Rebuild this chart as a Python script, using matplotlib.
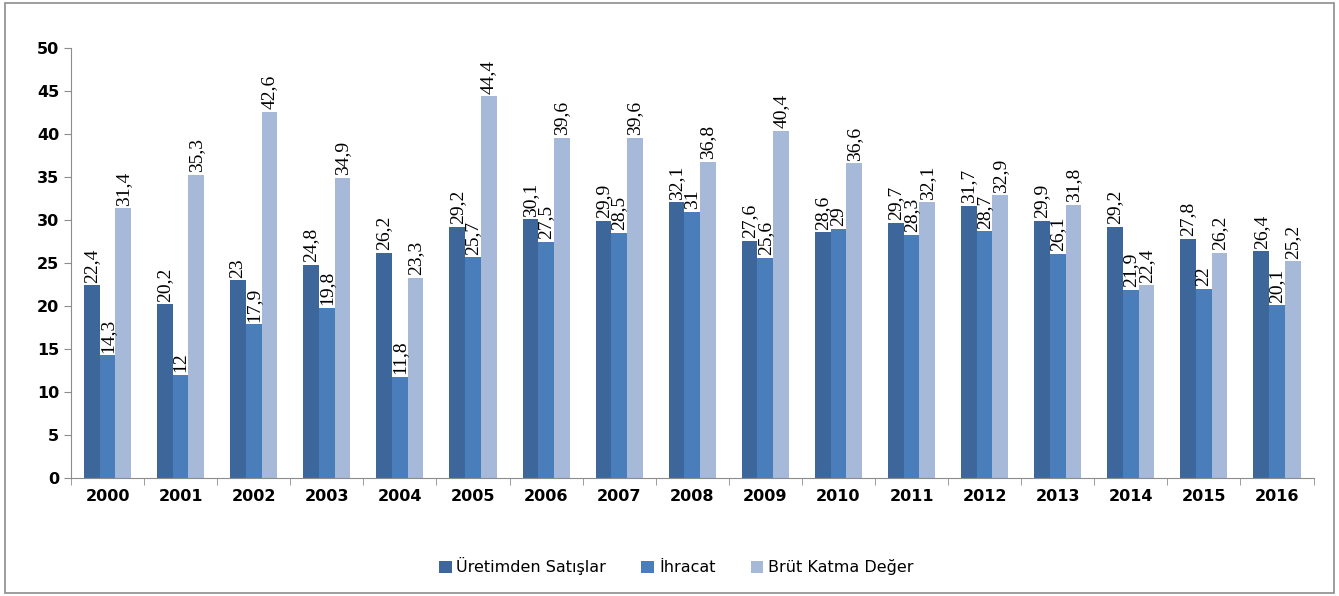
import matplotlib.pyplot as plt
import numpy as np
from matplotlib.patches import Rectangle

YEARS = ['2000', '2001', '2002', '2003', '2004', '2005', '2006', '2007', '2008',
         '2009', '2010', '2011', '2012', '2013', '2014', '2015', '2016']
URETIM = [22.4, 20.2, 23, 24.8, 26.2, 29.2, 30.1, 29.9, 32.1, 27.6, 28.6, 29.7,
          31.7, 29.9, 29.2, 27.8, 26.4]
IHRACAT = [14.3, 12, 17.9, 19.8, 11.8, 25.7, 27.5, 28.5, 31, 25.6, 29, 28.3,
           28.7, 26.1, 21.9, 22, 20.1]
BRUT = [31.4, 35.3, 42.6, 34.9, 23.3, 44.4, 39.6, 39.6, 36.8, 40.4, 36.6, 32.1,
        32.9, 31.8, 22.4, 26.2, 25.2]
SERIES = ['Üretimden Satışlar', 'İhracat', 'Brüt Katma Değer']
COLORS = ['#3d679a', '#4a7ebb', '#a6b9d8']


def fmt(v):
  s = ('%.1f' % v).rstrip('0').rstrip('.')
  return s.replace('.', ',')


fig = plt.figure(figsize=(13.39, 5.96), dpi=100)
fig.patches.append(Rectangle((0.004, 0.005), 0.992, 0.99, transform=fig.transFigure,
                             fill=False, edgecolor='#8c8c8c', linewidth=1.2))
ax = fig.add_axes([0.053, 0.198, 0.928, 0.721])

x = np.arange(len(YEARS))
width = 0.215
for i, (vals, color, name) in enumerate(zip([URETIM, IHRACAT, BRUT], COLORS, SERIES)):
  pos = x + (i - 1) * width
  ax.bar(pos, vals, width=width, color=color, label=name, zorder=2)
  for p, v in zip(pos, vals):
    ax.text(p, v + 0.3, fmt(v), rotation=90, ha='center', va='bottom',
            fontsize=14, family='Liberation Serif', color='black')

ax.set_xlim(-0.5, len(YEARS) - 0.5)
ax.set_ylim(0, 50)
ax.set_yticks(range(0, 51, 5))
ax.set_xticks(x)
ax.set_xticklabels(YEARS, fontsize=11.5, fontweight='bold')
ax.set_xticks(np.arange(-0.5, len(YEARS), 1), minor=True)
ax.tick_params(axis='x', which='major', length=0, pad=8)
ax.tick_params(axis='x', which='minor', length=5, color='#8c8c8c')
ax.tick_params(axis='y', length=5, color='#8c8c8c', labelsize=11.5)
for lab in ax.get_yticklabels():
  lab.set_fontweight('bold')
for side in ['top', 'right']:
  ax.spines[side].set_visible(False)
for side in ['left', 'bottom']:
  ax.spines[side].set_color('#8c8c8c')

fig.legend(loc='center', bbox_to_anchor=(0.505, 0.05), ncol=3, frameon=False,
           fontsize=11.5, handlelength=0.8, handleheight=0.8, handletextpad=0.3,
           columnspacing=2.2)

plt.savefig('out.png', dpi=100)
plt.close()
